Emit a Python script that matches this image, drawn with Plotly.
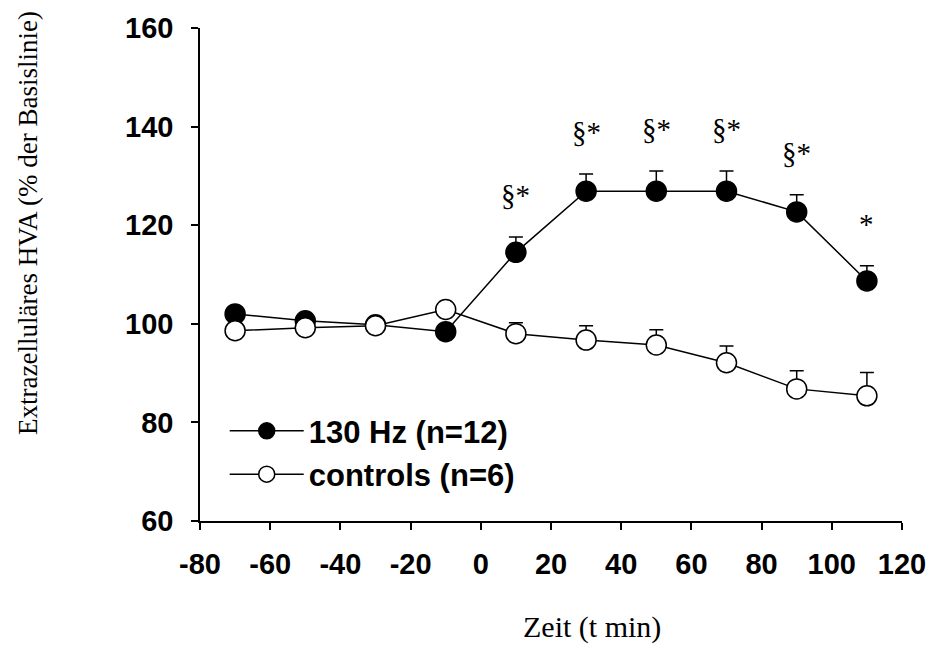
import plotly.graph_objects as go

# ---- data ----
time_min = [-70, -50, -30, -10, 10, 30, 50, 70, 90, 110]

hz130_mean = [102.0, 100.6, 99.8, 98.4, 114.5, 126.9, 126.9, 126.9, 122.7, 108.7]
hz130_sem = [0, 0, 0, 0, 3.1, 3.5, 4.1, 4.1, 3.5, 3.1]

ctrl_mean = [98.6, 99.2, 99.6, 102.9, 98.0, 96.7, 95.7, 92.1, 86.8, 85.4]
ctrl_sem = [0, 0, 0, 0, 2.2, 2.9, 3.1, 3.4, 3.7, 4.7]

sig_labels = ["", "", "", "", "§*", "§*", "§*", "§*", "§*", "*"]

x_ticks = [-80, -60, -40, -20, 0, 20, 40, 60, 80, 100, 120]
y_ticks = [60, 80, 100, 120, 140, 160]

series_names = ["130 Hz (n=12)", "controls (n=6)"]

# ---- figure ----
fig = go.Figure()

zeros = [0] * len(time_min)

fig.add_trace(go.Scatter(
    x=time_min, y=hz130_mean, name=series_names[0], mode="lines+markers",
    line=dict(color="black", width=1.5),
    marker=dict(size=20, color="black", line=dict(color="black", width=1.5)),
    error_y=dict(type="data", array=hz130_sem, arrayminus=zeros, symmetric=False,
                 color="black", thickness=1.5, width=7),
    legendgroup="a",
))
fig.add_trace(go.Scatter(
    x=time_min, y=ctrl_mean, name=series_names[1], mode="lines+markers",
    line=dict(color="black", width=1.5),
    marker=dict(size=20, color="white", line=dict(color="black", width=1.5)),
    error_y=dict(type="data", array=ctrl_sem, arrayminus=zeros, symmetric=False,
                 color="black", thickness=1.5, width=7),
    legendgroup="b",
))

for t, m, s, lab in zip(time_min, hz130_mean, hz130_sem, sig_labels):
    if lab:
        fig.add_annotation(
            x=t, y=m + s, xref="x", yref="y", text=lab, showarrow=False,
            yanchor="bottom", yshift=24,
            font=dict(family="Liberation Serif, Times New Roman, serif", size=29, color="black"),
        )

tick_font = dict(family="Liberation Sans, Arial, Helvetica, sans-serif", size=29, color="black",
                 weight="bold")

fig.update_xaxes(
    range=[-80, 120], tickvals=x_ticks, ticktext=[str(v) for v in x_ticks],
    showline=True, linecolor="black", linewidth=1.5,
    ticks="outside", ticklen=7, tickwidth=1.5, tickcolor="black",
    showgrid=False, zeroline=False, tickfont=tick_font, ticklabelstandoff=9,
)
fig.update_yaxes(
    range=[60, 160], tickvals=y_ticks, ticktext=[str(v) for v in y_ticks],
    showline=True, linecolor="black", linewidth=1.5,
    ticks="outside", ticklen=7, tickwidth=1.5, tickcolor="black",
    showgrid=False, zeroline=False, tickfont=tick_font, ticklabelstandoff=12,
)

fig.add_annotation(
    text="Extrazelluläres HVA (% der Basislinie)", xref="paper", yref="paper",
    x=(26 - 200) / 710, y=(521 - 220) / 498, xanchor="center", yanchor="middle",
    textangle=-90, showarrow=False,
    font=dict(family="Liberation Serif, Times New Roman, serif", size=27, color="black"),
)
fig.add_annotation(
    text="Zeit (t min)", xref="paper", yref="paper",
    x=(596 - 200) / 710, y=(521 - 628) / 498, xanchor="center", yanchor="middle",
    showarrow=False,
    font=dict(family="Liberation Serif, Times New Roman, serif", size=30, color="black"),
)

fig.update_layout(
    width=938, height=648,
    margin=dict(l=200, r=28, t=23, b=127),
    paper_bgcolor="white", plot_bgcolor="white",
    showlegend=True,
    legend=dict(
        x=(225 - 200) / 710, y=(521 - 403) / 498, xanchor="left", yanchor="top",
        bgcolor="rgba(0,0,0,0)", borderwidth=0, tracegroupgap=0, itemwidth=74,
        font=dict(family="Liberation Sans, Arial, Helvetica, sans-serif", size=31,
                  color="black", weight="bold"),
    ),
)

fig.write_html("out.html")
